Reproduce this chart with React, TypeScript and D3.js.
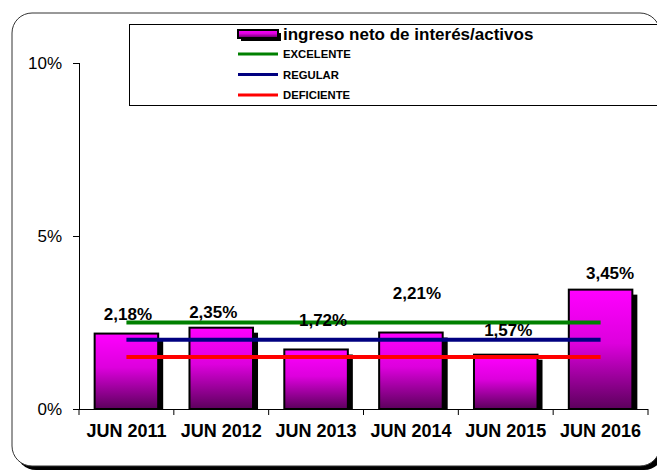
import React from 'react';
import * as d3 from 'd3';

const categories = ['JUN 2011', 'JUN 2012', 'JUN 2013', 'JUN 2014', 'JUN 2015', 'JUN 2016'];
const values = [2.18, 2.35, 1.72, 2.21, 1.57, 3.45];
const valueLabels = ['2,18%', '2,35%', '1,72%', '2,21%', '1,57%', '3,45%'];
const excelente = [2.5, 2.5, 2.5, 2.5, 2.5, 2.5];
const regular = [2.0, 2.0, 2.0, 2.0, 2.0, 2.0];
const deficiente = [1.5, 1.5, 1.5, 1.5, 1.5, 1.5];
const yTicks = [0, 5, 10];
const yTickLabels = ['0%', '5%', '10%'];

// label nudges (px) so the value labels sit where the original put them
const labelDx = [1.5, -8, 7, 6, 2.5, 9.5];
const labelDy = [-14, -9.5, -23, -34, -19, -11];

const W = 657;
const H = 473;
const FONT = 'Arial, "Liberation Sans", sans-serif';

const App = () => {
  const x = d3.scaleBand<string>().domain(categories).range([79, 648]).paddingInner(0.33).paddingOuter(0.165);
  const y = d3.scaleLinear().domain([0, 10]).range([409, 63]);
  const xc = (c: string) => (x(c) as number) + x.bandwidth() / 2;

  const line = d3
    .line<number>()
    .x((_, i) => xc(categories[i]))
    .y(d => y(d));

  const series = [
    { name: 'EXCELENTE', data: excelente, color: '#008000' },
    { name: 'REGULAR', data: regular, color: '#000080' },
    { name: 'DEFICIENTE', data: deficiente, color: '#ff0000' },
  ];

  const bw = x.bandwidth();

  return (
    <svg width={W} height={H} style={{ position: 'absolute', left: 0, top: 0 }} fontFamily={FONT}>
      <defs>
        <linearGradient id="barGrad" x1="0" y1="0" x2="0" y2="1">
          <stop offset="0%" stopColor="#ff00ff" />
          <stop offset="45%" stopColor="#dd00dd" />
          <stop offset="100%" stopColor="#5c005c" />
        </linearGradient>
      </defs>
      <rect width={W} height={H} fill="#fff" />

      {/* outer frame with shadow */}
      <rect x={16} y={17} width={648} height={453} rx={20} fill="#000" />
      <rect x={12} y={13} width={648} height={453} rx={20} fill="#fff" stroke="#333" strokeWidth={1} />

      {/* legend box */}
      <rect x={129.5} y={24.5} width={560} height={81} fill="#fff" stroke="#000" strokeWidth={1} />
      <rect x={241} y={33} width={40} height={8} fill="#000" />
      <rect x={238} y={30} width={40} height={8} fill="url(#barGrad)" stroke="#000" strokeWidth={2} />
      <text x={283} y={40} fontSize={17} fontWeight="bold">ingreso neto de interés/activos</text>
      {series.map((s, i) => (
        <g key={s.name}>
          <line x1={238} x2={278} y1={54 + i * 20.5} y2={54 + i * 20.5} stroke={s.color} strokeWidth={3} />
          <text x={283} y={58 + i * 20.5} fontSize={11.3} fontWeight="bold">{s.name}</text>
        </g>
      ))}

      {/* y axis */}
      <line x1={79.5} x2={79.5} y1={y(10)} y2={y(0)} stroke="#000" strokeWidth={1} />
      {yTicks.map((t, i) => (
        <g key={t}>
          <line x1={73} x2={79.5} y1={y(t) + 0.5} y2={y(t) + 0.5} stroke="#000" />
          <text x={62} y={y(t) + 6} fontSize={17} textAnchor="end">{yTickLabels[i]}</text>
        </g>
      ))}

      {/* bars */}
      {categories.map((c, i) => {
        const bx = x(c) as number;
        const by = y(values[i]);
        return (
          <g key={c}>
            <rect x={bx + 5} y={by + 5} width={bw} height={y(0) - by - 5} fill="#000" />
            <rect x={bx} y={by} width={bw} height={y(0) - by} fill="url(#barGrad)" stroke="#000" strokeWidth={2} />
          </g>
        );
      })}

      {/* x axis */}
      <line x1={79} x2={648} y1={409.5} y2={409.5} stroke="#000" strokeWidth={1} />
      {d3.range(categories.length + 1).map(i => {
        const tx = 79 + (i * (648 - 79)) / categories.length;
        return <line key={i} x1={tx} x2={tx} y1={409} y2={415} stroke="#000" />;
      })}
      {categories.map(c => (
        <text key={c} x={xc(c)} y={437} fontSize={18} fontWeight="bold" textAnchor="middle">{c}</text>
      ))}

      {/* reference lines */}
      {series.map(s => (
        <path key={s.name} d={line(s.data) as string} fill="none" stroke={s.color} strokeWidth={4} />
      ))}

      {/* value labels */}
      {categories.map((c, i) => (
        <text key={c} x={xc(c) + labelDx[i]} y={y(values[i]) + labelDy[i]} fontSize={17} fontWeight="bold" textAnchor="middle">
          {valueLabels[i]}
        </text>
      ))}
    </svg>
  );
};

export default App;
